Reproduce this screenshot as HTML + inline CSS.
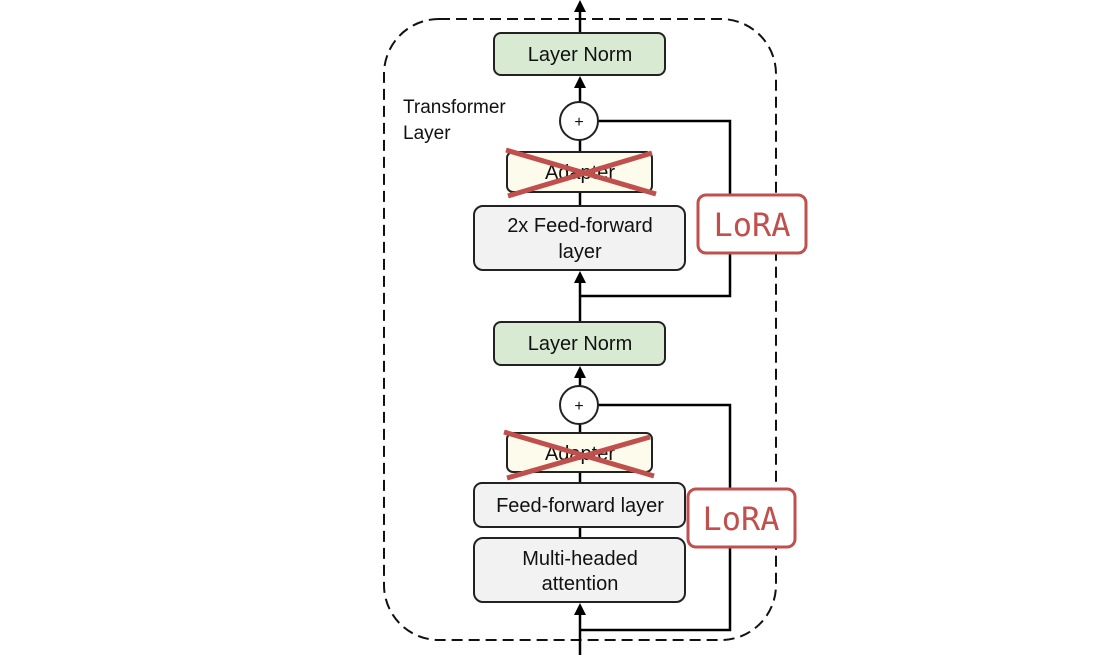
<!DOCTYPE html>
<html><head><style>
body{margin:0;background:#fff;}
svg text{font-family:"Liberation Sans",sans-serif;}
</style></head><body>
<svg width="1100" height="655" viewBox="0 0 1100 655" xmlns="http://www.w3.org/2000/svg">
<rect x="384" y="19" width="392" height="621" rx="55" fill="none" stroke="#111" stroke-width="2" stroke-dasharray="11,6"/>
<text x="403" y="113" font-size="19" fill="#111">Transformer</text>
<text x="403" y="139" font-size="19" fill="#111">Layer</text>
<g stroke="#000" stroke-width="2.5" fill="none">
<line x1="580" y1="32" x2="580" y2="8"/>
<line x1="580" y1="102" x2="580" y2="85"/>
<line x1="580" y1="140" x2="580" y2="205"/>
<polyline points="598,121 730,121 730,296 580,296"/>
<line x1="580" y1="321" x2="580" y2="280"/>
<line x1="580" y1="386" x2="580" y2="375"/>
<line x1="580" y1="424" x2="580" y2="538"/>
<polyline points="598,405 730,405 730,630 580,630"/>
<line x1="580" y1="655" x2="580" y2="612"/>
</g>
<g fill="#000">
<polygon points="580,0 574,12 586,12"/>
<polygon points="580,76 574,88 586,88"/>
<polygon points="580,271 574,283 586,283"/>
<polygon points="580,366 574,378 586,378"/>
<polygon points="580,603 574,615 586,615"/>
</g>
<g stroke="#222" stroke-width="2">
<rect x="494" y="33" width="171" height="42" rx="7" fill="#d9ead3"/>
<rect x="494" y="322" width="171" height="43" rx="7" fill="#d9ead3"/>
<rect x="507" y="152" width="145" height="40" rx="6" fill="#fdfbec"/>
<rect x="507" y="433" width="145" height="39" rx="6" fill="#fdfbec"/>
<rect x="474" y="206" width="211" height="64" rx="9" fill="#f2f2f2"/>
<rect x="474" y="483" width="211" height="44" rx="8" fill="#f2f2f2"/>
<rect x="474" y="538" width="211" height="64" rx="9" fill="#f2f2f2"/>
<circle cx="579" cy="121" r="19" fill="#fff"/>
<circle cx="579" cy="405" r="19" fill="#fff"/>
</g>
<g font-size="20" fill="#111" text-anchor="middle">
<text x="580" y="61">Layer Norm</text>
<text x="580" y="350">Layer Norm</text>
<text x="580" y="179">Adapter</text>
<text x="580" y="460">Adapter</text>
<text x="580" y="232">2x Feed-forward</text>
<text x="580" y="258">layer</text>
<text x="580" y="512">Feed-forward layer</text>
<text x="580" y="565">Multi-headed</text>
<text x="580" y="590">attention</text>
<text x="579" y="127" font-size="16">+</text>
<text x="579" y="411" font-size="16">+</text>
</g>
<g stroke="#c0504d" stroke-width="5">
<line x1="506" y1="150" x2="656" y2="194"/>
<line x1="508" y1="196" x2="652" y2="153"/>
<line x1="504" y1="432" x2="654" y2="476"/>
<line x1="507" y1="478" x2="650" y2="437"/>
</g>
<g stroke="#c0504d" stroke-width="3" fill="#fff">
<rect x="698" y="195" width="108" height="58" rx="8"/>
<rect x="688" y="489" width="107" height="58" rx="8"/>
</g>
<g font-size="32" fill="#c0504d" text-anchor="middle">
<text x="752" y="236" style="font-family:'DejaVu Sans Mono',monospace">LoRA</text>
<text x="741" y="530" style="font-family:'DejaVu Sans Mono',monospace">LoRA</text>
</g>
</svg>
</body></html>
